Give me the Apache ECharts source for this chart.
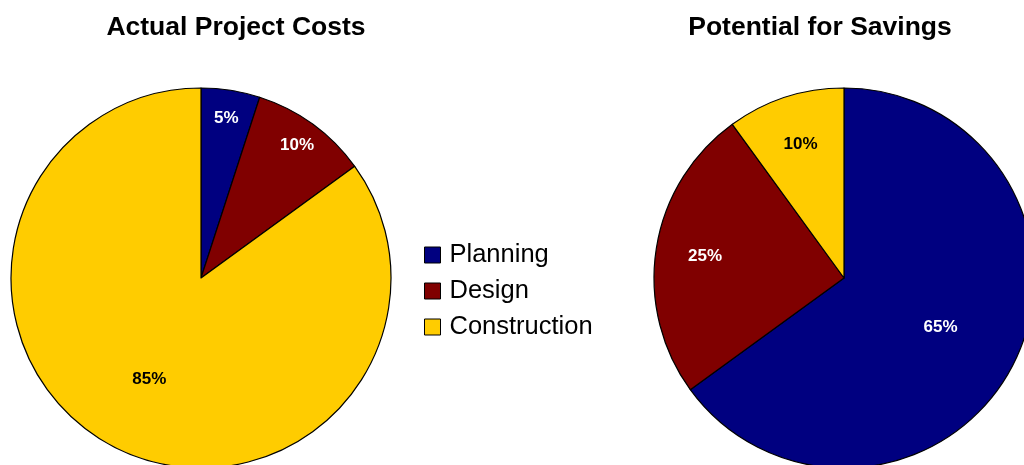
<!DOCTYPE html>
<html>
<head>
<meta charset="utf-8">
<script src="https://cdn.jsdelivr.net/npm/echarts@6/dist/echarts.min.js"></script>
<style>
  html, body { margin: 0; padding: 0; background: #fff; }
  #chart { width: 1024px; height: 465px; }
</style>
</head>
<body>
<div id="chart"></div>
<script>
// Project phases and their shares (percent)
const categories = ['Planning', 'Design', 'Construction'];
const actualCosts = [5, 10, 85];
const savingsPotential = [65, 25, 10];
const chartTitles = ['Actual Project Costs', 'Potential for Savings'];

// Styling
const phaseColors = ['#000080', '#800000', '#FFCC00'];
const labelColors = ['#ffffff', '#ffffff', '#000000'];
const FONT = '"Liberation Sans", Arial, sans-serif';
const RADIUS = 190;
const centers = [[201, 278], [844, 278]];
// radial placement of the percentage labels (fraction of radius)
const labelRadial = [[0.85, 0.86, 0.6], [0.57, 0.74, 0.74]];
const seriesValues = [actualCosts, savingsPotential];

function pieData(values) {
  return categories.map((name, i) => ({
    name: name,
    value: values[i],
    itemStyle: { color: phaseColors[i] },
    label: { color: labelColors[i] }
  }));
}

function labelPos(seriesIndex, dataIndex) {
  const vals = seriesValues[seriesIndex];
  const total = vals.reduce((a, b) => a + b, 0);
  let cum = 0;
  for (let k = 0; k < dataIndex; k++) cum += vals[k];
  const theta = (cum + vals[dataIndex] / 2) / total * Math.PI * 2;
  const f = labelRadial[seriesIndex][dataIndex];
  const c = centers[seriesIndex];
  return {
    x: c[0] + f * RADIUS * Math.sin(theta),
    y: c[1] - f * RADIUS * Math.cos(theta)
  };
}

const chart = echarts.init(document.getElementById('chart'), null, { renderer: 'canvas' });

const seriesCommon = {
  type: 'pie',
  radius: RADIUS,
  startAngle: 90,
  clockwise: true,
  silent: true,
  animation: false,
  itemStyle: { borderColor: '#000', borderWidth: 1.2 },
  label: {
    show: true,
    position: 'inside',
    formatter: '{c}%',
    fontFamily: FONT,
    fontWeight: 'bold',
    fontSize: 17
  },
  labelLine: { show: false },
  emphasis: { disabled: true },
  labelLayout: function (params) {
    const p = labelPos(params.seriesIndex, params.dataIndex);
    return { x: p.x, y: p.y, align: 'center', verticalAlign: 'middle' };
  }
};

const titleStyle = { fontFamily: FONT, fontWeight: 'bold', fontSize: 26.5, color: '#000' };

chart.setOption({
  backgroundColor: '#ffffff',
  title: [
    {
      text: chartTitles[0],
      left: 236, top: 28, padding: 0, textAlign: 'center', textVerticalAlign: 'middle',
      textStyle: titleStyle
    },
    {
      text: chartTitles[1],
      left: 820, top: 28, padding: 0, textAlign: 'center', textVerticalAlign: 'middle',
      textStyle: titleStyle
    }
  ],
  legend: {
    orient: 'vertical',
    left: 424,
    top: 242,
    padding: 0,
    itemWidth: 16,
    itemHeight: 16,
    itemGap: 10,
    icon: 'rect',
    selectedMode: false,
    data: categories,
    itemStyle: { borderColor: '#000', borderWidth: 1 },
    textStyle: {
      fontFamily: FONT,
      fontSize: 25.5,
      lineHeight: 25,
      color: '#000',
      padding: [0, 0, 0, 4]
    }
  },
  series: [
    Object.assign({}, seriesCommon, {
      name: chartTitles[0],
      center: centers[0],
      data: pieData(actualCosts)
    }),
    Object.assign({}, seriesCommon, {
      name: chartTitles[1],
      center: centers[1],
      data: pieData(savingsPotential)
    })
  ]
});
</script>
</body>
</html>
